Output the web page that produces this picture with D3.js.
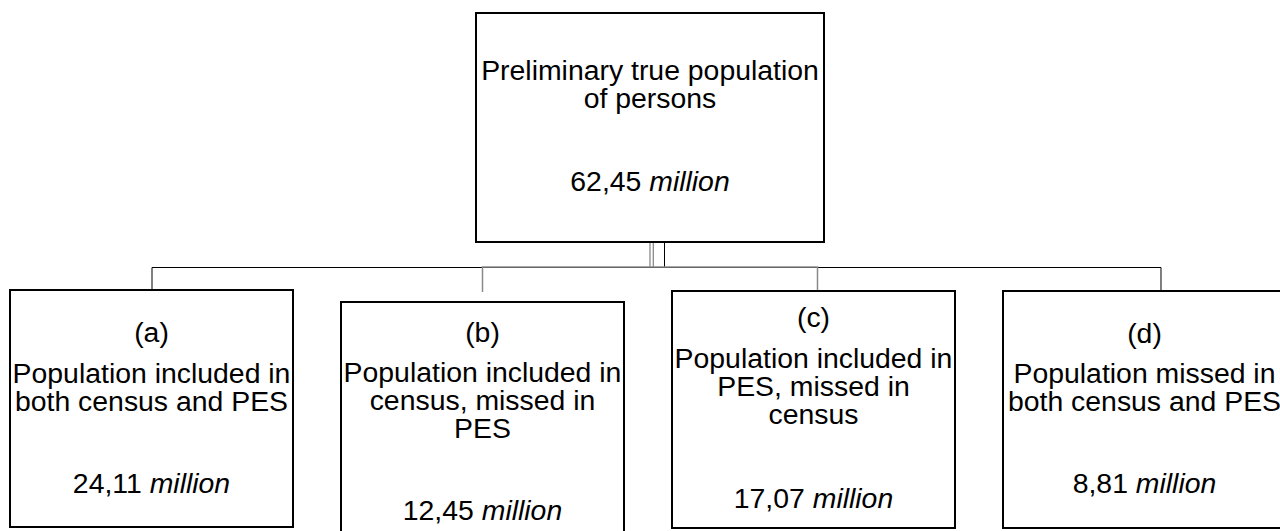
<!DOCTYPE html>
<html>
<head>
<meta charset="utf-8">
<script src="https://cdn.jsdelivr.net/npm/d3@7"></script>
<style>
  html, body { margin: 0; padding: 0; background: #fff; overflow: hidden; }
  svg { display: block; }
  text { font-family: "Liberation Sans", Arial, sans-serif; fill: #000; }
</style>
</head>
<body>
<svg id="chart" width="1280" height="531"></svg>
<script>
// ---- data ----
const rootTitle = ["Preliminary true population", "of persons"];
const rootValue = 62.45;
const childIds = ["a", "b", "c", "d"];
const childTags = ["(a)", "(b)", "(c)", "(d)"];
const childTitles = [
  ["Population included in", "both census and PES"],
  ["Population included in", "census, missed in", "PES"],
  ["Population included in", "PES, missed in", "census"],
  ["Population missed in", "both census and PES"]
];
const childValues = [24.11, 12.45, 17.07, 8.81];
const unitLabel = "million";

// ---- layout (positions/styles) ----
const fontSize = 28.4;
const lineGap = 28;
const rootBox = { x0: 476, x1: 824, y0: 13, y1: 242, line1: 79.5, value: 191 };
const childTop = [290, 302, 291, 291];
const childH = 237;
const tagOffset = [52, 40, 36, 52];      // baseline of tag below box top
const titleOffset = [93, 80, 77, 92];    // first title baseline below box top
const valueOffset = [203, 218, 217, 202];
const linkXOffset = [0, 0, 4, 16];
const busY = 267;

const fmt = v => d3.format(".2f")(v).replace(".", ",");

const svg = d3.select("#chart");

const x = d3.scaleBand()
  .domain(childIds)
  .range([10, 1286])
  .paddingInner(0.145)
  .paddingOuter(0);

// ---- connectors ----
const g = svg.append("g");
const cx = id => x(id) + x.bandwidth() / 2 + linkXOffset[childIds.indexOf(id)];
const rootCx = (rootBox.x0 + rootBox.x1) / 2;

// black bus: a <-> d via root
g.append("path")
  .attr("fill", "none").attr("stroke", "#000").attr("stroke-width", 1)
  .attr("d", d3.line()([
    [cx("a") + 0.5, childTop[0]],
    [cx("a") + 0.5, busY + 0.5],
    [cx("d") + 0.5, busY + 0.5],
    [cx("d") + 0.5, childTop[3]]
  ]));
g.append("line")
  .attr("stroke", "#000").attr("stroke-width", 1)
  .attr("x1", rootCx + 14.5).attr("x2", rootCx + 14.5)
  .attr("y1", rootBox.y1).attr("y2", busY + 0.5);

// grey bus: b <-> c
g.append("path")
  .attr("fill", "none").attr("stroke", "#8a8a8a").attr("stroke-width", 1.5)
  .attr("d", d3.line()([
    [cx("b"), childTop[1] - 10],
    [cx("b"), busY],
    [cx("c"), busY],
    [cx("c"), childTop[2]]
  ]));
[rootCx, rootCx + 3.3].forEach(px => {
  g.append("line")
    .attr("stroke", "#8a8a8a").attr("stroke-width", 1.3)
    .attr("x1", px).attr("x2", px)
    .attr("y1", rootBox.y1).attr("y2", busY);
});

// ---- root box ----
svg.append("rect")
  .attr("x", rootBox.x0).attr("y", rootBox.y0)
  .attr("width", rootBox.x1 - rootBox.x0).attr("height", rootBox.y1 - rootBox.y0)
  .attr("fill", "#fff").attr("stroke", "#000").attr("stroke-width", 2);

const rt = svg.append("text")
  .attr("x", rootCx).attr("y", rootBox.line1)
  .attr("text-anchor", "middle").attr("font-size", fontSize);
rootTitle.forEach((t, i) => {
  rt.append("tspan").attr("x", rootCx).attr("dy", i === 0 ? 0 : lineGap).text(t);
});
const rv = svg.append("text")
  .attr("x", rootCx).attr("y", rootBox.value)
  .attr("text-anchor", "middle").attr("font-size", fontSize);
rv.append("tspan").text(fmt(rootValue) + " ");
rv.append("tspan").attr("font-style", "italic").text(unitLabel);

// ---- child boxes ----
const nodes = svg.selectAll("g.child")
  .data(childIds)
  .join("g")
  .attr("class", "child")
  .attr("transform", (d, i) => `translate(${x(d)},${childTop[i]})`);

nodes.append("rect")
  .attr("width", x.bandwidth()).attr("height", childH)
  .attr("fill", "#fff").attr("stroke", "#000").attr("stroke-width", 2);

nodes.append("text")
  .attr("x", x.bandwidth() / 2).attr("y", (d, i) => tagOffset[i])
  .attr("text-anchor", "middle").attr("font-size", fontSize)
  .text((d, i) => childTags[i]);

nodes.each(function (d, i) {
  const sel = d3.select(this);
  const cxw = x.bandwidth() / 2;
  const tt = sel.append("text")
    .attr("x", cxw).attr("y", titleOffset[i])
    .attr("text-anchor", "middle").attr("font-size", fontSize);
  childTitles[i].forEach((t, j) => {
    tt.append("tspan").attr("x", cxw).attr("dy", j === 0 ? 0 : lineGap).text(t);
  });
  const vt = sel.append("text")
    .attr("x", cxw).attr("y", valueOffset[i])
    .attr("text-anchor", "middle").attr("font-size", fontSize);
  vt.append("tspan").text(fmt(childValues[i]) + " ");
  vt.append("tspan").attr("font-style", "italic").text(unitLabel);
});
</script>
</body>
</html>
